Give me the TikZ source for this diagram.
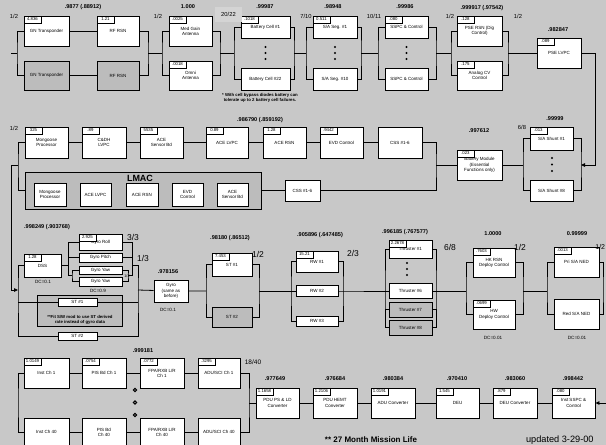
\documentclass[tikz,border=0pt]{standalone}
\usepackage{fontspec}
\setmainfont{Liberation Sans}
\usetikzlibrary{arrows.meta,calc}
\definecolor{bggray}{RGB}{200,200,200}
\definecolor{boxgray}{RGB}{188,188,188}
\definecolor{hilite}{RGB}{212,212,212}
\tikzset{
    blk/.style={draw, fill=white, line width=0.9pt, inner sep=0pt, align=center,
        font=\fontsize{4.5}{5.2}\selectfont},
    blkg/.style={blk, fill=boxgray},
    sz/.style 2 args={minimum width=#1pt, minimum height=#2pt},
    tab/.style={draw, fill=white, line width=0.8pt, anchor=north west, inner xsep=2pt,
        inner ysep=0pt, minimum width=17pt, minimum height=7pt,
        font=\fontsize{4.3}{4.3}\selectfont},
    val/.style={label={[tab]north west:#1}},
    rel/.style={font=\bfseries\fontsize{5.6}{6}\selectfont},
    kn/.style={font=\fontsize{5.8}{6}\selectfont},
    kofn/.style={font=\fontsize{8.5}{9}\selectfont},
    note/.style={font=\fontsize{4.6}{5.2}\selectfont, align=center},
    bus/.style={line width=0.8pt},
    arr/.style={-{Triangle[length=4pt,width=3.5pt]}}
}
\begin{document}
\begin{tikzpicture}[x=1pt, y=-1pt, bus]
\fill[bggray] (0,0) rectangle (606,445);
\useasboundingbox (0,0) rectangle (606,445);

% --- power / comm chain
\node[blk, sz={45}{30}, val=4.836] (gnA) at (46.5,31) {GN Transponder};
\node[blk, sz={42}{30}, val=1.21] (rfA) at (118,31) {RF RSN};
\node[blkg, sz={45}{29}] (gnB) at (46.5,75.5) {GN Transponder};
\node[blkg, sz={42}{29}] (rfB) at (118,75.5) {RF RSN};
\node[blk, sz={43}{30}, val=.0025] (antA) at (190.5,31) {Med Gain\\Antenna};
\node[blk, sz={43}{29}, val=.0018] (antB) at (190.5,75.5) {Omni\\Antenna};
\node[blk, sz={49}{22}, val=.1018] (batA) at (265.5,27) {Battery Cell \#1};
\node[blk, sz={49}{22}] (batB) at (265.5,79) {Battery Cell \#22};
\node[blk, sz={44}{22}, val=0.511] (saA) at (335,27) {S/A Seg. \#1};
\node[blk, sz={44}{22}] (saB) at (335,79) {S/A Seg. \#10};
\node[blk, sz={43}{22}, val=.080] (sspcA) at (406.5,27) {SSPC \& Control};
\node[blk, sz={43}{22}] (sspcB) at (406.5,79) {SSPC \& Control};
\node[blk, sz={45}{30}, val=.128] (pseA) at (479.5,31) {PSE RSN (Dig\\Control)};
\node[blk, sz={45}{29}, val=.175] (pseB) at (479.5,75.5) {Analog CV\\Control};
\node[blk, sz={44}{30}, val=.089] (lvpc) at (559,53) {PSE LVPC};
\foreach \x in {265.5,335,406.5}
    \foreach \y in {47,53,59}
        \fill (\x,\y) circle (1.2pt);

\node[rel] (r1) at (83,7) {.9877 (.88912)};
\node[kn] (k1) at (14,16) {1/2};
\node[kn] (k2) at (158,16) {1/2};
\node[rel] (r2) at (188,7) {1.000};
\node[kn, fill=hilite, minimum width=27pt, minimum height=15pt] (k3) at (228.5,14.5) {20/22};
\node[rel] (r3) at (265,7) {.99987};
\node[kn] (k4) at (306,16) {7/10};
\node[rel] (r4) at (333,7) {.98948};
\node[kn] (k5) at (374,16) {10/11};
\node[rel] (r5) at (405,7) {.99986};
\node[kn] (k6) at (450,16) {1/2};
\node[rel] (r6) at (482,8) {.999917 (.97542)};
\node[kn] (k7) at (518,16) {1/2};
\node[rel] (r7) at (558,30) {.982847};
\node[note, font=\bfseries\fontsize{4.3}{5}\selectfont] (n1) at (260,98)
    {* With cell bypass diodes battery can\\tolerate up to 2 battery cell failures.};

\coordinate (src) at (11,53);
\coordinate (b1) at (17,53);
\coordinate (b2) at (148,53);
\coordinate (b3) at (162,53);
\coordinate (b4) at (220,53);
\coordinate (b5) at (234,53);
\coordinate (b6) at (294,53);
\coordinate (b7) at (306,53);
\coordinate (b8) at (361,53);
\coordinate (b9) at (378,53);
\coordinate (b10) at (436,53);
\coordinate (b11) at (451,53);
\coordinate (b12) at (508,53);
\draw (src) -- (b1);
\draw (gnA.west) -| (b1) |- (gnB.west);
\draw (gnA) -- (rfA);
\draw (gnB) -- (rfB);
\draw (rfA.east) -| (b2) |- (rfB.east);
\draw (b2) -- (b3);
\draw (antA.west) -| (b3) |- (antB.west);
\draw (antA.east) -| (b4) |- (antB.east);
\draw (b4) -- (b5);
\draw (batA.west) -| (b5) |- (batB.west);
\draw (batA.east) -| (b6) |- (batB.east);
\draw (b6) -- (b7);
\draw (saA.west) -| (b7) |- (saB.west);
\draw (saA.east) -| (b8) |- (saB.east);
\draw (b8) -- (b9);
\draw (sspcA.west) -| (b9) |- (sspcB.west);
\draw (sspcA.east) -| (b10) |- (sspcB.east);
\draw (b10) -- (b11);
\draw (pseA.west) -| (b11) |- (pseB.west);
\draw (pseA.east) -| (b12) |- (pseB.east);
\draw (b12) -- (lvpc);

% --- C&DH / LMAC chain (runs right to left)
\node[blk, sz={43}{31}, val=325] (mgp) at (46.5,142.5) {Mongoose\\Processor};
\node[blk, sz={44}{31}, val=.89] (cdh) at (104,142.5) {C\&DH\\LVPC};
\node[blk, sz={43}{31}, val=5535] (aceS) at (161.5,142.5) {ACE\\Sensor Bd};
\node[blk, sz={42}{31}, val=0.89] (aceL) at (227,142.5) {ACE LVPC};
\node[blk, sz={43}{31}, val=1.28] (aceR) at (284.5,142.5) {ACE RSN};
\node[blk, sz={43}{31}, val=.9442] (evd) at (341.5,142.5) {EVD Control};
\node[blk, sz={44}{31}] (css1) at (400,142.5) {CSS \#1-6};
\node[blkg, sz={236}{37}] (lmac) at (143,190.5) {};
\node[font=\bfseries\fontsize{9}{9}\selectfont] (lmacT) at (140,178.5) {LMAC};
\node[blk, sz={32}{23}] (lm1) at (50,194.5) {Mongoose\\Processor};
\node[blk, sz={31}{23}] (lm2) at (95.5,194.5) {ACE LVPC};
\node[blk, sz={32}{23}] (lm3) at (142,194.5) {ACE RSN};
\node[blk, sz={31}{23}] (lm4) at (187.5,194.5) {EVD\\Control};
\node[blk, sz={31}{23}] (lm5) at (232.5,194.5) {ACE\\Sensor Bd};
\node[blk, sz={35}{21}] (css2) at (302.5,190.5) {CSS \#1-6};
\node[blk, sz={45}{30}, val=.023] (batM) at (479.5,165) {Battery Module\\(Essential\\Functions only)};
\node[blk, sz={43}{23}, val=.013] (shA) at (551.5,138.5) {S/A Shunt \#1};
\node[blk, sz={43}{21}] (shB) at (551.5,190.5) {S/A Shunt \#8};
\foreach \y in {158,164.5,171}
    \fill (552,\y) circle (1.2pt);

\node[kn] (k8) at (14,128) {1/2};
\node[rel] (r8) at (260,120) {.986790 (.859192)};
\node[rel] (r9) at (479,131) {.997612};
\node[kn] (k9) at (522,127) {6/8};
\node[rel] (r10) at (555,119) {.99999};

\coordinate (a0) at (11,165);
\coordinate (a1) at (18,165);
\coordinate (a2) at (436,165);
\coordinate (a3) at (523,165);
\coordinate (a4) at (581,165);
\coordinate (a5) at (595,165);
\draw[arr] (lvpc.east) -| (a5) -- (a4);
\draw (shA.east) -| (a4) |- (shB.east);
\draw (shA.west) -| (a3) |- (shB.west);
\draw (a3) -- (batM) -- (a2);
\draw (css1.east) -| (a2) |- (css2.east);
\draw (css2) -- (lmac);
\draw (css1) -- (evd) -- (aceR) -- (aceL) -- (aceS) -- (cdh) -- (mgp);
\draw (mgp.west) -| (a1) |- (lmac.west);

% --- attitude control chain
\node[blk, sz={37}{23}, val=1.28] (dss) at (42.5,265.5) {DSS};
\node[blk, sz={43}{16}, val=2.925] (gyR) at (100.5,242) {\raisebox{-2pt}{Gyro Roll}};
\node[blk, sz={43}{9}] (gyP) at (100.5,257.5) {Gyro Pitch};
\node[blk, sz={43}{8}] (gyY1) at (100.5,270) {Gyro Yaw};
\node[blk, sz={43}{9}] (gyY2) at (100.5,281.5) {Gyro Yaw};
\node[blkg, sz={85}{31}] (stBox) at (79.5,310.5) {};
\node[note, font=\bfseries\fontsize{4.3}{5.2}\selectfont] (n2) at (80,319.5)
    {**Fit S/W mod to use ST derived\\rate instead of gyro data};
\node[blk, sz={39}{8}] (st1a) at (77.5,302) {ST \#1};
\node[blk, sz={39}{8}] (st2a) at (77.5,336) {ST \#2};
\node[blk, sz={34}{22}] (gyro) at (171,291) {Gyro\\(same as\\before)};
\node[blk, sz={40}{23}, val=7.453] (stA) at (232,264.5) {ST \#1};
\node[blkg, sz={40}{20}] (stB) at (232,317) {ST \#2};
\node[blk, sz={42}{21}, val=15.21] (rw1) at (317,261.5) {RW \#1};
\node[blk, sz={42}{11}] (rw2) at (317,291) {RW \#2};
\node[blk, sz={42}{10}] (rw3) at (317,321) {RW \#3};
\node[blk, sz={43}{18}, val=2.2678] (th1) at (410.5,249) {\raisebox{-2pt}{Thruster \#1}};
\node[blk, sz={43}{15}] (th6) at (410.5,291) {Thruster \#6};
\node[blkg, sz={43}{15}] (th7) at (410.5,309.5) {Thruster \#7};
\node[blkg, sz={43}{15}] (th8) at (410.5,327.5) {Thruster \#8};
\node[blk, sz={42}{29}, val=.7603] (hk1) at (494,262.5) {HK RSN\\Deploy Control};
\node[blk, sz={42}{29}, val=.0699] (hk2) at (494,314.5) {HW\\Deploy Control};
\node[blk, sz={45}{30}, val=.0013] (ned1) at (576.5,262) {Pri S/A NED};
\node[blk, sz={45}{30}] (ned2) at (576.5,314) {Red S/A NED};
\foreach \y in {263,269,275}
    \fill (407,\y) circle (1.2pt);

\node[rel] (r11) at (47,227) {.998249 (.903768)};
\node[note] (d1) at (43,281.5) {DC=0.1};
\node[kofn] (k10) at (133,237) {3/3};
\node[kofn] (k11) at (143,258) {1/3};
\node[font=\fontsize{3.8}{4}\selectfont] (k12) at (127,276) {1/2};
\node[note] (d2) at (98,291) {DC=0.9};
\node[rel] (r12) at (168,272) {.978156};
\node[note] (d3) at (168,309.5) {DC=0.1};
\node[rel] (r13) at (230,238) {.98180 (.86512)};
\node[kofn] (k13) at (258,254) {1/2};
\node[rel] (r14) at (320,235) {.905896 (.647485)};
\node[kofn] (k14) at (353,253) {2/3};
\node[rel] (r15) at (405,232) {.996185 (.767577)};
\node[kofn] (k15) at (450,247) {6/8};
\node[rel] (r16) at (493,234) {1.0000};
\node[kofn] (k16) at (520,247) {1/2};
\node[note] (d4) at (493,337.5) {DC=0.01};
\node[rel] (r17) at (577,234) {0.99999};
\node[font=\fontsize{7}{7}\selectfont, anchor=east, inner xsep=0.5pt] (k17) at (606,247) {1/2};
\node[note] (d5) at (577,337.5) {DC=0.01};

\coordinate (g1) at (18,290);
\coordinate (gl) at (68,265.5);
\coordinate (gly) at (72,275.75);
\coordinate (gr) at (132,265.5);
\coordinate (gry) at (128,275.75);
\coordinate (g2) at (138,290);
\coordinate (h1) at (206,291);
\coordinate (h2) at (259,291);
\coordinate (h3) at (291,291);
\coordinate (h4) at (343,291);
\coordinate (h5) at (385,291);
\coordinate (h6) at (436,291);
\coordinate (h7) at (466,291);
\coordinate (h8) at (523,291);
\coordinate (h9) at (547,291);
\coordinate (h10) at (603,291);
\draw[arr] (a1) -- (a0) |- (g1);
\draw (dss.west) -| (g1) |- (st2a.west);
\draw (st1a.west) -- (st1a.west -| g1);
\draw (dss.east) -- (gl);
\draw (gyR.west) -| (gl);
\draw (gyP.west) -- (gyP.west -| gl);
\draw (gyY1.west) -| (gly) |- (gyY2.west);
\draw (gly) -- (gly -| gl) -- (gl);
\draw (gyR.east) -| (gr);
\draw (gyP.east) -- (gyP.east -| gr);
\draw (gyY1.east) -| (gry) |- (gyY2.east);
\draw (gry) -- (gry -| gr) -- (gr);
\draw (gr) -| (g2) |- (st2a.east);
\draw (st1a.east) -- (st1a.east -| g2);
\draw (g2) -- (gyro) -- (h1);
\draw (stA.west) -| (h1) |- (stB.west);
\draw (stA.east) -| (h2) |- (stB.east);
\draw (h2) -- (h3);
\draw (rw1.west) -| (h3) |- (rw3.west);
\draw (rw2.west) -- (h3);
\draw (rw1.east) -| (h4) |- (rw3.east);
\draw (rw2.east) -- (h4) -- (h5);
\draw (th1.west) -| (h5) |- (th8.west);
\draw (th6.west) -- (h5);
\draw (th7.west) -- (th7.west -| h5);
\draw (th1.east) -| (h6) |- (th8.east);
\draw (th6.east) -- (h6);
\draw (th7.east) -- (th7.east -| h6);
\draw (h6) -- (h7);
\draw (hk1.west) -| (h7) |- (hk2.west);
\draw (hk1.east) -| (h8) |- (hk2.east);
\draw (h8) -- (h9);
\draw (ned1.west) -| (h9) |- (ned2.west);
\draw (ned1.east) -| (h10) |- (ned2.east);

% --- instrument chain
\node[blk, sz={45}{30}, val=1.0149] (ich1) at (46.5,373) {Inst Ch 1};
\node[blk, sz={44}{30}, val=.0754] (pis1) at (104,373) {PIS Bd Ch 1};
\node[blk, sz={44}{30}, val=.0772] (fpa1) at (162,373) {FPA/RXB L/R\\Ch 1};
\node[blk, sz={42}{30}, val=.3295] (adu1) at (219,373) {ADU/SCI Ch 1};
\node[blk, sz={45}{28}] (ich40) at (46.5,432) {Inst Ch 40};
\node[blk, sz={44}{28}] (pis40) at (104,432) {PIS Bd\\Ch 40};
\node[blk, sz={44}{28}] (fpa40) at (162,432) {FPA/RXB L/R\\Ch 40};
\node[blk, sz={42}{28}] (adu40) at (219,432) {ADU/SCI Ch 40};
\node[blk, sz={43}{30}, val=1.1658] (pdu1) at (277.5,403) {PDU PS \& LD\\Converter};
\node[blk, sz={44}{30}, val=1.2106] (pdu2) at (335,403) {PDU HEMT\\Converter};
\node[blk, sz={44}{30}, val=1.0191] (aduc) at (393,403) {ADU Converter};
\node[blk, sz={43}{30}, val=1.545] (deu) at (457.5,403) {DEU};
\node[blk, sz={44}{30}, val=.879] (deuc) at (515,403) {DEU Converter};
\node[blk, sz={43}{30}, val=.080] (isspc) at (573.5,403) {Inst SSPC \&\\Control};
\foreach \y in {390,402.5,415}
    \draw[line width=1pt, fill=bggray] (135,\y) circle (1.6pt);

\node[rel] (r18) at (143,351) {.999181};
\node[font=\fontsize{6.5}{7}\selectfont] (k18) at (253,362) {18/40};
\node[rel] (r19) at (275,379) {.977649};
\node[rel] (r20) at (335,379) {.976684};
\node[rel] (r21) at (393,379) {.980384};
\node[rel] (r22) at (457,379) {.970410};
\node[rel] (r23) at (515,379) {.983060};
\node[rel] (r24) at (573,379) {.998442};
\node[font=\bfseries\fontsize{8}{8}\selectfont] (n3) at (371,439.5) {** 27 Month Mission Life};
\node[font=\fontsize{9.2}{9.2}\selectfont, anchor=east, inner sep=0pt] (n4) at (594,440) {updated 3-29-00};

\coordinate (k1) at (18,403);
\coordinate (k2) at (249,403);
\coordinate (k3) at (606,403);
\draw (ich1) -- (pis1) -- (fpa1) -- (adu1);
\draw (ich40) -- (pis40) -- (fpa40) -- (adu40);
\draw (ich1.west) -| (k1) |- (ich40.west);
\draw (adu1.east) -| (k2) |- (adu40.east);
\draw (k2) -- (pdu1) -- (pdu2) -- (aduc) -- (deu) -- (deuc) -- (isspc);
\draw[arr] (k3) -- (isspc.east);
\end{tikzpicture}
\end{document}
